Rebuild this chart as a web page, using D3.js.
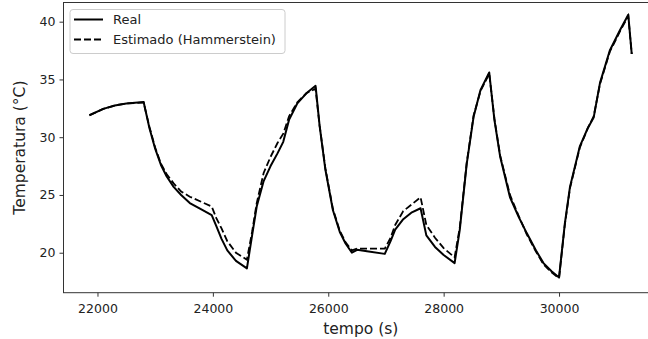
<!DOCTYPE html>
<meta charset="utf-8">
<head>
  <title>Temperatura real x estimada</title>
</head>
<style>
  body { margin: 0; background: #fff; }
  svg { font-family: "DejaVu Sans", sans-serif; display: block; }
</style>
<body>
  <svg width="648" height="339"></svg>

  <script src="https://cdnjs.cloudflare.com/ajax/libs/d3/7.8.5/d3.min.js"></script>
  <script>
  // tempo (s)
  var tempo = [21860, 22100, 22300, 22500, 22800, 22900, 23000, 23100, 23200, 23320,
    23450, 23600, 23800, 23980, 24060, 24150, 24250, 24400, 24590, 24680,
    24760, 24880, 25000, 25120, 25220, 25320, 25460, 25620, 25780, 25850,
    25950, 26080, 26200, 26300, 26410, 26500, 26700, 26980, 27080, 27160,
    27300, 27450, 27600, 27700, 27850, 28000, 28190, 28280, 28400, 28520,
    28640, 28790, 28880, 28980, 29150, 29300, 29440, 29600, 29730, 29870,
    30000, 30100, 30190, 30360, 30500, 30600, 30710, 30880, 31060, 31200, 31260];

  var real = [31.9, 32.45, 32.75, 32.92, 33.05, 30.8, 29.0, 27.6, 26.6, 25.7,
    25.0, 24.3, 23.75, 23.25, 22.3, 21.2, 20.2, 19.3, 18.65, 21.5,
    24.0, 26.2, 27.5, 28.6, 29.6, 31.5, 32.9, 33.8, 34.45, 31.0,
    27.2, 23.7, 21.8, 20.8, 20.0, 20.25, 20.1, 19.9, 21.0, 22.0,
    22.9, 23.5, 23.85, 21.5, 20.5, 19.8, 19.1, 22.0, 27.7, 31.8,
    34.1, 35.6, 31.5, 28.3, 24.8, 23.1, 21.7, 20.2, 19.1, 18.4,
    17.85, 22.5, 25.7, 29.2, 30.8, 31.7, 34.7, 37.5, 39.3, 40.6, 37.2];

  var estimado = [31.9, 32.45, 32.75, 32.92, 33.0, 30.9, 29.1, 27.7, 26.8, 26.0,
    25.3, 24.85, 24.4, 24.0, 23.0, 22.1, 21.0, 20.0, 19.4, 21.8,
    24.3, 26.9, 28.3, 29.5, 30.3, 31.8, 33.0, 33.8, 34.2, 31.0,
    27.3, 23.8, 21.9, 20.9, 20.2, 20.35, 20.35, 20.35, 21.3, 22.4,
    23.6, 24.2, 24.8, 22.4, 21.3, 20.4, 19.6, 22.2, 27.8, 31.9,
    34.0, 35.5, 31.6, 28.4, 25.0, 23.2, 21.6, 20.1, 19.0, 18.3,
    17.8, 22.4, 25.6, 29.1, 30.8, 31.8, 34.6, 37.4, 39.2, 40.5, 37.2];

  var xTicks = [22000, 24000, 26000, 28000, 30000];
  var yTicks = [20, 25, 30, 35, 40];

  var legendLabels = ["Real", "Estimado (Hammerstein)"];

  var plotL = 63.5, plotR = 660, plotT = 2.5, plotB = 292.7;

  var svg = d3.select("svg");

  var x = d3.scaleLinear().domain([21411, 31750]).range([plotL, plotR]);
  var y = d3.scaleLinear().domain([16.54, 41.66]).range([plotB, plotT]);

  // lines
  var line = d3.line()
    .x(function(d, i) { return x(tempo[i]); })
    .y(function(d) { return y(d); });

  svg.append("path")
    .attr("d", line(real))
    .attr("fill", "none")
    .attr("stroke", "#000")
    .attr("stroke-width", 2)
    .attr("stroke-linejoin", "round");

  svg.append("path")
    .attr("d", line(estimado))
    .attr("fill", "none")
    .attr("stroke", "#000")
    .attr("stroke-width", 1.8)
    .attr("stroke-dasharray", "7,3");

  // axes
  var xAxis = svg.append("g")
    .attr("transform", "translate(0," + plotB + ")")
    .call(d3.axisBottom(x).tickValues(xTicks).tickFormat(d3.format("d")).tickSizeOuter(0).tickSize(4));

  var yAxis = svg.append("g")
    .attr("transform", "translate(" + plotL + ",0)")
    .call(d3.axisLeft(y).tickValues(yTicks).tickSizeOuter(0).tickSize(4));

  [xAxis, yAxis].forEach(function(a) {
    a.selectAll("text").attr("font-size", 12.5).attr("fill", "#222").attr("font-family", "DejaVu Sans");
    a.selectAll("line").attr("stroke", "#333");
    a.select(".domain").remove();
  });
  xAxis.selectAll("text").attr("dy", "1.05em");
  yAxis.selectAll("text").attr("x", -8);

  // spines
  svg.append("rect")
    .attr("x", plotL).attr("y", plotT)
    .attr("width", plotR - plotL).attr("height", plotB - plotT)
    .attr("fill", "none")
    .attr("stroke", "#333")
    .attr("stroke-width", 1);

  // labels
  svg.append("text")
    .attr("x", (plotL + plotR) / 2 - 1)
    .attr("y", 334)
    .attr("text-anchor", "middle")
    .attr("font-size", 15.5)
    .attr("fill", "#222")
    .text("tempo (s)");

  svg.append("text")
    .attr("transform", "translate(25," + (plotT + plotB) / 2 + ") rotate(-90)")
    .attr("text-anchor", "middle")
    .attr("font-size", 15.5)
    .attr("fill", "#222")
    .text("Temperatura (°C)");

  // legend
  var lg = svg.append("g").attr("transform", "translate(70,9.5)");
  lg.append("rect")
    .attr("width", 215).attr("height", 44)
    .attr("rx", 3)
    .attr("fill", "#fff")
    .attr("fill-opacity", 0.8)
    .attr("stroke", "#ccc");

  legendLabels.forEach(function(lab, i) {
    var yy = 10 + i * 20;
    lg.append("line")
      .attr("x1", 4).attr("x2", 33)
      .attr("y1", yy).attr("y2", yy)
      .attr("stroke", "#000")
      .attr("stroke-width", i === 0 ? 2 : 1.8)
      .attr("stroke-dasharray", i === 0 ? null : "7,3");
    lg.append("text")
      .attr("x", 43).attr("y", yy + 4.5)
      .attr("font-size", 13)
      .attr("fill", "#222")
      .text(lab);
  });
  </script>
</body>
</html>
